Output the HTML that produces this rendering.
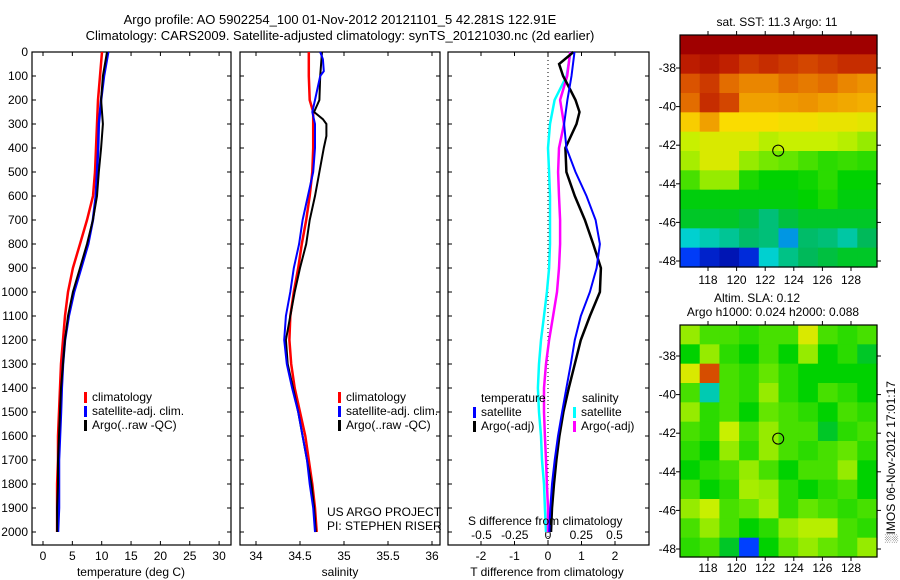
<!DOCTYPE html>
<html><head><meta charset="utf-8"><style>
html,body{margin:0;padding:0;background:#fff;}
svg{display:block;font-family:"Liberation Sans",sans-serif;}
text{font-size:12px;fill:#000;}
</style></head><body>
<svg id="fig" width="900" height="580" viewBox="0 0 900 580" xmlns="http://www.w3.org/2000/svg">
<text x="340" y="24" text-anchor="middle" style="font-size:13px">Argo profile: AO 5902254_100 01-Nov-2012 20121101_5 42.281S 122.91E</text>
<text x="340" y="40" text-anchor="middle" style="font-size:13px">Climatology: CARS2009. Satellite-adjusted climatology: synTS_20121030.nc (2d earlier)</text>
<g id="g"></g>
</svg>
<script>
// ---------- profile data ----------
const depthStd = [0,100,200,300,400,500,600,700,800,900,1000,1100,1200,1300,1400,1500,1600,1700,1800,1900,2000];
const tempClim = [10.05,9.71,9.37,9.2,9.03,8.86,8.52,7.5,6.3,5.1,4.26,3.75,3.4,3.07,2.9,2.73,2.56,2.56,2.4,2.4,2.4];
const tempArgo = [10.9,10.2,9.9,10.2,9.9,9.5,9.2,8.5,7.5,6.3,5.1,4.26,3.75,3.4,3.07,2.9,2.73,2.56,2.56,2.4,2.4];
const tempSat  = [11.1,10.4,9.9,9.5,9.4,9.2,9.0,8.5,7.7,6.5,5.3,4.4,3.75,3.4,3.2,3.07,2.9,2.73,2.73,2.73,2.56];
const depthSalClim = [0,100,200,250,300,400,500,600,700,800,900,1000,1100,1200,1300,1400,1500,1600,1700,1800,1900,2000];
const salClim = [34.60,34.60,34.61,34.65,34.65,34.65,34.64,34.61,34.57,34.52,34.48,34.43,34.39,34.38,34.40,34.44,34.50,34.56,34.60,34.64,34.67,34.69];
const depthSalSat = [0,30,80,100,150,200,250,300,400,500,600,700,800,900,1000,1100,1200,1300,1400,1500,1600,1700,1800,1900,2000];
const salSat = [34.73,34.76,34.77,34.73,34.70,34.67,34.64,34.67,34.67,34.65,34.59,34.53,34.49,34.43,34.39,34.34,34.32,34.35,34.41,34.48,34.53,34.58,34.61,34.65,34.67];
const depthSalArgo = [0,50,100,200,250,280,300,350,400,500,600,700,800,900,1000,1100,1200,1300,1400,1500,1600,1700,1800,1900,2000];
const salArgo = [34.75,34.74,34.73,34.72,34.66,34.76,34.80,34.80,34.77,34.72,34.67,34.61,34.57,34.50,34.44,34.39,34.34,34.36,34.42,34.48,34.53,34.58,34.63,34.66,34.68];
const depthTdArgo = [0,50,100,150,200,250,300,400,500,600,700,800,900,1000,1100,1200,1300,1400,1500,1600,1700,1800,1900,2000];
const tDiffArgo = [0.76,0.33,0.45,0.64,0.82,0.94,0.85,0.52,0.55,0.8,1.1,1.35,1.58,1.55,1.25,0.98,0.8,0.62,0.46,0.34,0.25,0.18,0.12,0.09];
const tDiffSat = [0.79,0.70,0.58,0.48,0.55,0.82,1.15,1.42,1.55,1.45,1.25,0.98,0.8,0.68,0.55,0.42,0.3,0.2,0.12,0.07,0.04];
const sDiffSat = [0.17,0.14,0.05,0.015,0,0.008,0.015,0.015,0.015,0.008,-0.008,-0.03,-0.053,-0.068,-0.076,-0.068,-0.053,-0.045,-0.03,-0.023,-0.015];
const sDiffArgo = [0.167,0.144,0.091,0.12,0.083,0.076,0.083,0.091,0.091,0.083,0.068,0.038,0.008,-0.015,-0.03,-0.03,-0.023,-0.015,-0.008,0,0];
const depthTicks = [0,100,200,300,400,500,600,700,800,900,1000,1100,1200,1300,1400,1500,1600,1700,1800,1900,2000];
const tempTicks = [0,5,10,15,20,25,30];
const salTicks = [34,34.5,35,35.5,36];
const tdTicks = [-2,-1,0,1,2];
const sdTicks = [-0.5,-0.25,0,0.25,0.5];
const sdTickLabels = ["-0.5","-0.25","0","0.25","0.5"];
// ---------- map data (colour index 0..1), rows north->south ----------
const sstGrid = [
[1,1,1,1,1,1,1,1,1,1],
[.93,.95,.92,.88,.9,.88,.86,.88,.9,.9],
[.84,.88,.8,.76,.76,.8,.78,.8,.76,.74],
[.8,.9,.86,.72,.72,.73,.74,.72,.71,.7],
[.66,.72,.64,.64,.64,.63,.63,.62,.62,.61],
[.58,.6,.6,.6,.57,.58,.58,.58,.57,.55],
[.56,.6,.6,.55,.53,.52,.5,.48,.49,.48],
[.5,.55,.55,.47,.45,.45,.46,.48,.45,.45],
[.44,.44,.44,.44,.44,.44,.45,.47,.44,.44],
[.42,.42,.42,.4,.36,.4,.42,.42,.42,.42],
[.3,.32,.34,.37,.36,.24,.37,.36,.33,.38],
[.14,.08,.05,.1,.3,.35,.38,.4,.42,.42]];
const slaGrid = [
[.55,.5,.5,.48,.5,.5,.6,.5,.48,.5],
[.45,.55,.48,.45,.5,.45,.55,.45,.48,.42],
[.6,.85,.5,.48,.52,.48,.45,.45,.45,.45],
[.5,.32,.5,.48,.55,.48,.45,.5,.48,.45],
[.55,.48,.5,.45,.52,.5,.48,.45,.5,.48],
[.5,.48,.58,.5,.55,.5,.5,.42,.48,.5],
[.48,.45,.55,.48,.55,.5,.48,.5,.52,.48],
[.45,.48,.5,.55,.5,.45,.5,.5,.55,.45],
[.5,.45,.48,.56,.55,.48,.45,.48,.5,.45],
[.55,.58,.5,.52,.56,.48,.52,.5,.48,.5],
[.5,.55,.5,.45,.48,.55,.57,.57,.5,.48],
[.48,.5,.42,.15,.45,.52,.55,.52,.5,.55]];
const lonTicks = [118,120,122,124,126,128];
const latTicks = [-38,-40,-42,-44,-46,-48];
const argoPos = [122.91,-42.281];

const NS="http://www.w3.org/2000/svg";
const G=document.getElementById('g');
function el(tag,attrs,txt){const e=document.createElementNS(NS,tag);for(const k in attrs)e.setAttribute(k,attrs[k]);if(txt!==undefined)e.textContent=txt;G.appendChild(e);return e;}
const yD = d => 52 + d*0.24;
const panels = [
 {x0:32,x1:231,name:'temperature-panel'},
 {x0:240,x1:440,name:'salinity-panel'},
 {x0:448,x1:649,name:'difference-panel'}];
const xT = v => 43 + v*5.87;
const xS = v => 256 + (v-34)*88;
const xTd = v => 548 + v*33.5;
const xSd = v => 548 + v*133;
function line(xs,ys,fx,color,w,name){
  const pts=xs.map((v,i)=>fx(v).toFixed(1)+','+yD(ys[i]).toFixed(1)).join(' ');
  const p=el('polyline',{points:pts,fill:'none',stroke:color,'stroke-width':w});
  
  
}
panels.forEach((p,i)=>{
  const r=el('rect',{x:p.x0,y:52,width:p.x1-p.x0,height:493,fill:'none',stroke:'#000','stroke-width':1.2});
  
  
});
depthTicks.forEach(d=>{
  panels.forEach(p=>{el('line',{x1:p.x0,x2:p.x0+4,y1:yD(d),y2:yD(d),stroke:'#000'});el('line',{x1:p.x1,x2:p.x1-4,y1:yD(d),y2:yD(d),stroke:'#000'});});
  const t=el('text',{x:28,y:yD(d)+4,'text-anchor':'end'},String(d));
  
  
});
function xticks(ticks,labels,fx,p,ly){
  ticks.forEach((v,i)=>{const x=fx(v);
    el('line',{x1:x,x2:x,y1:52,y2:56,stroke:'#000'});el('line',{x1:x,x2:x,y1:545,y2:541,stroke:'#000'});
    if(ly){const t=el('text',{x:x,y:ly,'text-anchor':'middle'},labels[i]);
    
    }
  });
}
xticks(tempTicks,tempTicks.map(String),xT,panels[0],560);
xticks(salTicks,salTicks.map(String),xS,panels[1],560);
xticks(tdTicks,tdTicks.map(String),xTd,panels[2],560);
sdTicks.forEach((v,i)=>{const t=el('text',{x:xSd(v),y:539,'text-anchor':'middle'},sdTickLabels[i]);
  
  });
const z=el('line',{x1:xTd(0),x2:xTd(0),y1:52,y2:545,stroke:'#000','stroke-dasharray':'1,3'});


line(tempClim,depthStd,xT,'#ff0000',2.5,'temp-climatology-line');
line(tempSat,depthStd,xT,'#0000ff',2.5,'temp-satellite-line');
line(tempArgo,depthStd,xT,'#000000',2,'temp-argo-line');
line(salClim,depthSalClim,xS,'#ff0000',2.5,'sal-climatology-line');
line(salArgo,depthSalArgo,xS,'#000000',2,'sal-argo-line');
line(salSat,depthSalSat,xS,'#0000ff',2,'sal-satellite-line');
line(sDiffSat,depthStd,xSd,'#00ffff',2.5,'sdiff-satellite-line');
line(sDiffArgo,depthStd,xSd,'#ff00ff',2.5,'sdiff-argo-line');
line(tDiffArgo,depthTdArgo,xTd,'#000000',2.5,'tdiff-argo-line');
line(tDiffSat,depthStd,xTd,'#0000ff',2,'tdiff-satellite-line');
function leg(x,y,color,label){
  el('rect',{x:x,y:y-9,width:3,height:11,fill:color});
  const t=el('text',{x:x+8,y:y},label);
  
  
}
[[84,'#ff0000','climatology'],[84,'#0000ff','satellite-adj. clim.'],[84,'#000000','Argo(..raw -QC)']].forEach((e,i)=>leg(e[0],401+i*14,e[1],e[2]));
[[338,'#ff0000','climatology'],[338,'#0000ff','satellite-adj. clim.'],[338,'#000000','Argo(..raw -QC)']].forEach((e,i)=>leg(e[0],401+i*14,e[1],e[2]));
el('text',{x:481,y:402},'temperature');
el('text',{x:582,y:402},'salinity');
leg(473,416,'#0000ff','satellite');leg(473,430,'#000000','Argo(-adj)');
leg(573,416,'#00ffff','satellite');leg(573,430,'#ff00ff','Argo(-adj)');
el('text',{x:327,y:516},'US ARGO PROJECT');
el('text',{x:327,y:530},'PI: STEPHEN RISER');
el('text',{x:468,y:525},'S difference from climatology');
el('text',{x:131,y:576,'text-anchor':'middle'},'temperature (deg C)');
el('text',{x:340,y:576,'text-anchor':'middle'},'salinity');
el('text',{x:547,y:576,'text-anchor':'middle'},'T difference from climatology');
// ---------- maps ----------
const stops=[[0,[0,0,143]],[0.15,[0,64,255]],[0.3,[0,208,208]],[0.38,[0,185,90]],[0.45,[0,210,0]],[0.52,[100,230,0]],[0.58,[200,240,0]],[0.64,[250,220,0]],[0.72,[240,160,0]],[0.82,[224,96,0]],[0.92,[192,32,0]],[1,[160,0,0]]];
function jet(v){for(let i=1;i<stops.length;i++){if(v<=stops[i][0]){const a=stops[i-1],b=stops[i];const t=(v-a[0])/(b[0]-a[0]);return 'rgb('+a[1].map((c,k)=>Math.round(c+(b[1][k]-c)*t)).join(',')+')';}}return 'rgb(160,0,0)';}
function drawMap(grid,x0,y0,lat38y,name,lonLabelY){
  const x1=877, lonX=v=>708+(v-118)*14.3, latY=v=>lat38y+(-38-v)*19.3;
  const y1=y0+232;
  const rows=grid.length, cols=grid[0].length;
  const cw=(x1-x0)/cols, ch=(y1-y0)/rows;
  grid.forEach((row,r)=>row.forEach((v,c)=>{
    const e=el('rect',{x:(x0+c*cw).toFixed(2),y:(y0+r*ch).toFixed(2),width:(cw+0.6).toFixed(2),height:(ch+0.6).toFixed(2),fill:jet(v)});
    
    
  }));
  const f=el('rect',{x:x0,y:y0,width:x1-x0,height:y1-y0,fill:'none',stroke:'#000','stroke-width':1.2});
  
  
  lonTicks.forEach(v=>{const x=lonX(v);el('line',{x1:x,x2:x,y1:y0,y2:y0-4,stroke:'#000'});el('line',{x1:x,x2:x,y1:y1,y2:y1+4,stroke:'#000'});
    const t=el('text',{x:x,y:lonLabelY,'text-anchor':'middle'},String(v));
    
    });
  latTicks.forEach(v=>{const y=latY(v);el('line',{x1:x0,x2:x0-4,y1:y,y2:y,stroke:'#000'});el('line',{x1:x1,x2:x1+4,y1:y,y2:y,stroke:'#000'});
    const t=el('text',{x:x0-4,y:y+4,'text-anchor':'end'},String(v));
    
    });
  const m=el('circle',{cx:lonX(argoPos[0]),cy:latY(argoPos[1]),r:5.5,fill:'none',stroke:'#000','stroke-width':1});
  
  
}
drawMap(sstGrid,680,35,68,'sst-map',284);
drawMap(slaGrid,680,325,356,'sla-map',572);
el('text',{x:777,y:26,'text-anchor':'middle'},'sat. SST: 11.3 Argo: 11');
el('text',{x:757,y:302,'text-anchor':'middle'},'Altim. SLA: 0.12');
el('text',{x:773,y:316,'text-anchor':'middle'},'Argo h1000: 0.024 h2000: 0.088');
const v=el('text',{x:0,y:0,transform:'translate(895,462) rotate(-90)','text-anchor':'middle'},'\u2591IMOS 06-Nov-2012 17:01:17');


</script>
</body></html>
